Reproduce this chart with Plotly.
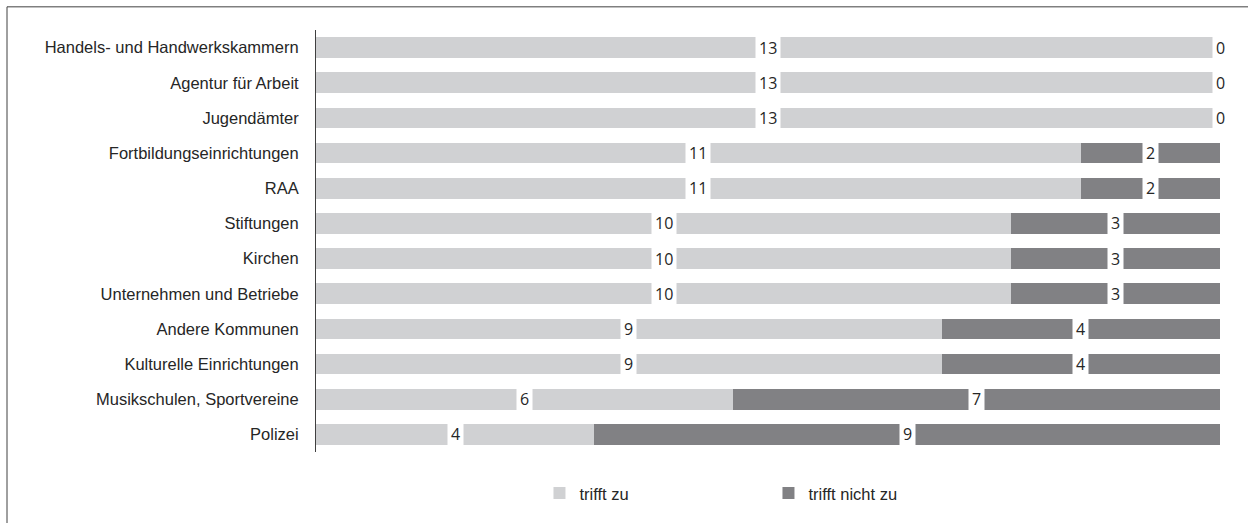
import plotly.graph_objects as go

categories = [
    "Handels- und Handwerkskammern",
    "Agentur für Arbeit",
    "Jugendämter",
    "Fortbildungseinrichtungen",
    "RAA",
    "Stiftungen",
    "Kirchen",
    "Unternehmen und Betriebe",
    "Andere Kommunen",
    "Kulturelle Einrichtungen",
    "Musikschulen, Sportvereine",
    "Polizei",
]
trifft_zu = [13, 13, 13, 11, 11, 10, 10, 10, 9, 9, 6, 4]
trifft_nicht_zu = [0, 0, 0, 2, 2, 3, 3, 3, 4, 4, 7, 9]

series_names = ["trifft zu", "trifft nicht zu"]
colors = ["#d0d1d3", "#818184"]

fig = go.Figure()
for name, vals, col in zip(series_names, [trifft_zu, trifft_nicht_zu], colors):
    fig.add_trace(go.Bar(
        y=categories, x=vals, name=name, orientation="h",
        marker=dict(color=col, line=dict(width=0)),
        hoverinfo="x+y",
    ))

# value labels centred on each segment, white boxes
annotations = []
for cat, a, b in zip(categories, trifft_zu, trifft_nicht_zu):
    for start, v in [(0, a), (a, b)]:
        annotations.append(dict(
            x=start + v / 2, y=cat, xref="x", yref="y",
            text=str(v), showarrow=False,
            font=dict(family="Open Sans", size=16, color="#262626"),
            bgcolor="white", borderpad=3,
        ))

fig.update_layout(
    width=1248, height=523,
    margin=dict(l=316, r=28, t=30, b=65),
    paper_bgcolor="white", plot_bgcolor="white",
    barmode="stack", bargap=0.41,
    annotations=annotations,
    font=dict(family="Liberation Sans, Arial", size=16.5, color="#262626"),
    xaxis=dict(range=[0, 13], visible=False, fixedrange=True),
    yaxis=dict(
        autorange="reversed", showline=True, linecolor="#404040", linewidth=1,
        showgrid=False, zeroline=False, ticks="", ticklabelstandoff=13,
        tickfont=dict(family="Liberation Sans, Arial", size=16.5, color="#262626"),
    ),
    legend=dict(
        orientation="h", x=0.2472, xanchor="left", y=-0.098, yanchor="middle",
        entrywidth=184, entrywidthmode="pixels",
        font=dict(family="Liberation Sans, Arial", size=16.5, color="#262626"),
        traceorder="normal",
    ),
    shapes=[dict(
        type="rect", xref="paper", yref="paper",
        x0=-0.3418, x1=2, y0=-2, y1=1.0549,
        line=dict(color="#404040", width=1), fillcolor="rgba(0,0,0,0)",
        layer="below",
    )],
)

fig.write_html("out.html")
